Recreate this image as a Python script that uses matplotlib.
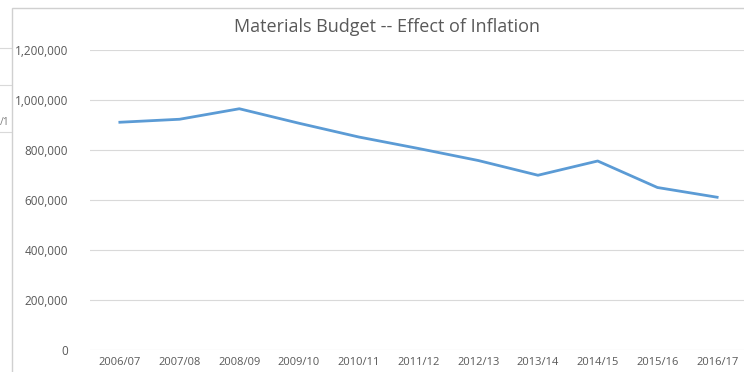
import matplotlib
matplotlib.use("Agg")
import matplotlib.pyplot as plt
from matplotlib.patches import Rectangle
from matplotlib.lines import Line2D
from matplotlib.ticker import FuncFormatter

# materials budget by financial year
years = ['2006/07', '2007/08', '2008/09', '2009/10', '2010/11', '2011/12',
         '2012/13', '2013/14', '2014/15', '2015/16', '2016/17']
budget = [911000, 923000, 965000, 907000, 852000, 806000,
          758000, 699000, 756000, 650000, 611000]
y_ticks = [0, 200000, 400000, 600000, 800000, 1000000, 1200000]

W, H = 744, 372
plt.rcParams['font.family'] = ['Open Sans', 'DejaVu Sans']
fig = plt.figure(figsize=(W / 100, H / 100), dpi=100)
fig.patch.set_facecolor('white')

def px(x, y):
    # pixel coords (top-left origin) -> figure fraction
    return x / W, 1 - y / H

# bits of the neighbouring chart peeking out on the left
for yy in [48, 85, 132]:
    fig.add_artist(Line2D([0, 12 / W], [1 - yy / H] * 2, color='#d9d9d9', lw=0.8, zorder=0))
fig.text(*px(0, 123), '/1', ha='left', va='center', fontsize=7.5, color='#7f7f7f', zorder=0)

# chart area frame
fig.add_artist(Rectangle(px(12, H + 5), (W + 5 - 12) / W, (H + 5 - 8) / H,
                         facecolor='white', edgecolor='#d0d0d0', lw=1.0, zorder=1))

ax = fig.add_axes([90 / W, (H - 350) / H, 657 / W, 300 / H], zorder=2)
ax.patch.set_alpha(0)
x = range(len(years))
ax.plot(x, budget, color='#5b9bd5', lw=2.0, solid_joinstyle='round', zorder=3)

ax.set_xlim(-0.5, len(years) - 0.5)
ax.set_ylim(0, 1200000)
ax.set_yticks(y_ticks)
ax.yaxis.set_major_formatter(FuncFormatter(lambda v, p: f'{int(v):,}'))
ax.set_xticks(list(x))
ax.set_xticklabels(years)
ax.grid(axis='y', color='#d9d9d9', lw=0.8)
ax.set_axisbelow(True)
for s in ax.spines.values():
    s.set_visible(False)
ax.tick_params(length=0, labelsize=8, colors='#595959')
ax.tick_params(axis='x', pad=5)
ax.tick_params(axis='y', labelsize=8.5, pad=16)

fig.text(*px(387, 27), 'Materials Budget -- Effect of Inflation', ha='center', va='center',
         fontsize=13, color='#595959', zorder=3)

fig.savefig('out.png', dpi=100)
